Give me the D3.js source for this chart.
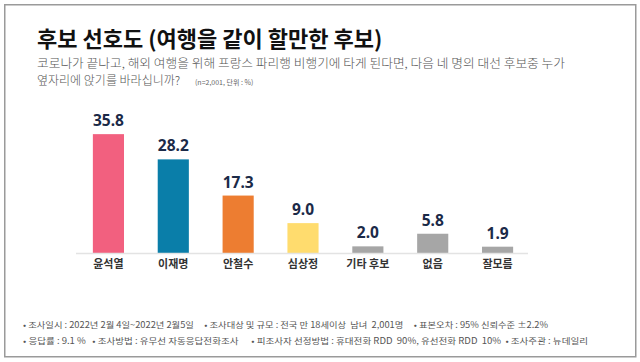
<!DOCTYPE html>
<meta charset="utf-8" />
<html>
<head>
    <script src="https://d3js.org/d3.v7.min.js"></script>
    <style>
      body { margin: 0; background: #fff; }
      svg { display: block; }
    </style>
</head>
<body>
<script type="text/javascript">
var categories = ['윤석열', '이재명', '안철수', '심상정', '기타 후보', '없음', '잘모름'];
var values = [35.8, 28.2, 17.3, 9.0, 2.0, 5.8, 1.9];
var valueLabels = ['35.8', '28.2', '17.3', '9.0', '2.0', '5.8', '1.9'];
var colors = ['#f2607f', '#0a7ea9', '#ed7d31', '#ffdc6e', '#a6a6a6', '#a6a6a6', '#a6a6a6'];

var title = '후보 선호도 (여행을 같이 할만한 후보)';
var question = ['코로나가 끝나고, 해외 여행을 위해 프랑스 파리행 비행기에 타게 된다면, 다음 네 명의 대선 후보중 누가',
                '옆자리에 앉기를 바라십니까?'];
var sampleNote = '(n=2,001, 단위 : %)';
var footer = ['• 조사일시 : 2022년 2월 4일~2022년 2월5일     • 조사대상 및 규모 : 전국 만 18세이상  남녀  2,001명     • 표본오차 : 95% 신뢰수준 ±2.2%',
              '• 응답률 : 9.1 %   • 조사방법 : 유무선 자동응답전화조사      • 피조사자 선정방법 : 휴대전화 RDD  90%, 유선전화 RDD  10%  • 조사주관 : 뉴데일리'];

var width = 640;
var height = 362;
var kfont = '"Noto Sans CJK KR", "Noto Sans", sans-serif';

var svg = d3.select('body').append('svg')
    .attr('width', width)
    .attr('height', height);

svg.append('rect')
    .attr('x', 4.75)
    .attr('y', 4.75)
    .attr('width', 631)
    .attr('height', 352)
    .attr('fill', '#fff')
    .attr('stroke', '#9a9a9a')
    .attr('stroke-width', 1.5);

// title + question
svg.append('text')
    .attr('x', 37)
    .attr('y', 47)
    .style('font-family', kfont)
    .style('font-weight', 700)
    .style('font-size', '22px')
    .attr('fill', '#111')
    .text(title);

svg.append('text')
    .attr('x', 37)
    .attr('y', 68)
    .attr('textLength', 528)
    .attr('lengthAdjust', 'spacingAndGlyphs')
    .style('font-family', kfont)
    .style('font-weight', 300)
    .style('font-size', '12px')
    .attr('fill', '#555')
    .text(question[0]);

svg.append('text')
    .attr('x', 37)
    .attr('y', 85)
    .style('font-family', kfont)
    .style('font-weight', 300)
    .style('font-size', '12px')
    .attr('fill', '#555')
    .text(question[1]);

svg.append('text')
    .attr('x', 195)
    .attr('y', 85)
    .style('font-family', kfont)
    .style('font-size', '7px')
    .attr('fill', '#666')
    .text(sampleNote);

// bars
var x = d3.scaleBand()
    .domain(categories)
    .range([76, 530])
    .paddingInner(0.52)
    .paddingOuter(0.26);

var y = d3.scaleLinear()
    .domain([0, 40])
    .range([253, 253 - 40 * 3.32]);

svg.append('g')
    .selectAll('rect')
    .data(values)
    .enter()
    .append('rect')
    .attr('x', function(d, i) { return x(categories[i]); })
    .attr('y', function(d) { return y(d); })
    .attr('width', x.bandwidth())
    .attr('height', function(d) { return y(0) - y(d); })
    .attr('fill', function(d, i) { return colors[i]; });

svg.append('line')
    .attr('x1', 76)
    .attr('x2', 528)
    .attr('y1', y(0) + 0.5)
    .attr('y2', y(0) + 0.5)
    .attr('stroke', '#e3e3e3')
    .attr('stroke-width', 1.5);

svg.append('g')
    .selectAll('text')
    .data(values)
    .enter()
    .append('text')
    .attr('x', function(d, i) { return x(categories[i]) + x.bandwidth() / 2; })
    .attr('y', function(d) { return y(d) - 8; })
    .attr('text-anchor', 'middle')
    .style('font-family', '"Noto Sans", sans-serif')
    .style('font-weight', 700)
    .style('font-size', '15.5px')
    .attr('fill', '#1b2a48')
    .text(function(d, i) { return valueLabels[i]; });

// category axis
var xAxis = svg.append('g')
    .attr('transform', 'translate(0,' + y(0) + ')')
    .call(d3.axisBottom(x).tickSize(0).tickPadding(0));
xAxis.select('.domain').remove();
xAxis.selectAll('text')
    .attr('dy', null)
    .attr('y', 15)
    .style('font-family', kfont)
    .style('font-weight', 700)
    .style('font-size', '11px')
    .attr('fill', '#333');

// footer
svg.append('g')
    .selectAll('text')
    .data(footer)
    .enter()
    .append('text')
    .attr('x', 23)
    .attr('y', function(d, i) { return 328 + i * 16; })
    .attr('textLength', function(d, i) { return i == 0 ? 525 : 565; })
    .attr('lengthAdjust', 'spacingAndGlyphs')
    .style('white-space', 'pre')
    .style('font-family', kfont)
    .style('font-weight', 400)
    .style('font-size', '8.5px')
    .attr('fill', '#555')
    .text(function(d) { return d; });
</script>
</body>
</html>
